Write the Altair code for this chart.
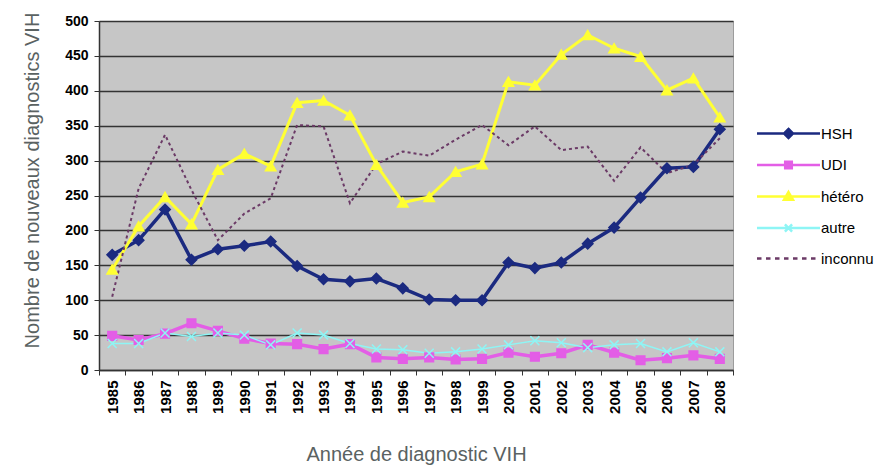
import altair as alt
import pandas as pd

annees = [1985, 1986, 1987, 1988, 1989, 1990, 1991, 1992, 1993, 1994, 1995, 1996,
          1997, 1998, 1999, 2000, 2001, 2002, 2003, 2004, 2005, 2006, 2007, 2008]
series = ["HSH", "UDI", "hétéro", "autre", "inconnu"]
hsh = [165, 186, 230, 158, 173, 178, 184, 149, 130, 127, 131, 117,
       101, 100, 100, 154, 146, 154, 181, 204, 247, 289, 291, 345]
udi = [49, 43, 52, 67, 56, 45, 38, 37, 30, 37, 18, 16,
       18, 15, 16, 25, 19, 24, 36, 25, 14, 17, 21, 16]
hetero = [144, 206, 248, 209, 287, 310, 292, 383, 386, 365, 294, 240,
          248, 284, 295, 413, 408, 452, 480, 461, 449, 401, 418, 362]
autre = [38, 38, 53, 48, 53, 50, 36, 53, 50, 38, 30, 29,
         24, 26, 30, 36, 42, 39, 32, 36, 38, 26, 39, 26]
inconnu = [105, 260, 337, 258, 186, 224, 246, 351, 349, 239, 295, 313,
           307, 330, 351, 322, 349, 315, 320, 271, 319, 282, 294, 332]
y_ticks = [0, 50, 100, 150, 200, 250, 300, 350, 400, 450, 500]

valeurs = [hsh, udi, hetero, autre, inconnu]
rows = []
for s, vals in zip(series, valeurs):
    for a, v in zip(annees, vals):
        rows.append({"annee": a, "serie": s, "valeur": v})
df = pd.DataFrame(rows)

colors = ["#1b2a80", "#e35ee6", "#ffff33", "#8ef5f5", "#6b3a66"]
line_w = [3.5, 3.5, 3, 1.5, 2]
X_PATH = "M-1,-1L1,1M-1,1L1,-1"
markers = ["diamond", "square", "triangle-up", X_PATH, None]
marker_size = [110, 75, 110, 80, 0]

# legend symbols: line + marker, unit = sqrt(size)/2
L = 5.25
legend_paths = [
    f"M-{L},0L{L},0M0,-0.75L0.75,0L0,0.75L-0.75,0Z",
    f"M-{L},0L{L},0M-0.55,-0.55L0.55,-0.55L0.55,0.55L-0.55,0.55Z",
    f"M-{L},0L{L},0M0,-0.75L0.75,0.55L-0.75,0.55Z",
    f"M-{L},0L{L},0M-0.6,-0.6L0.6,0.6M-0.6,0.6L0.6,-0.6",
    "".join(f"M{-L + i * 1.5:.2f},0L{-L + i * 1.5 + 0.75:.2f},0" for i in range(7)),
]

FONT = "Liberation Sans"
x_enc = alt.X(
    "annee:O",
    scale=alt.Scale(type="band", paddingInner=0, paddingOuter=0),
    axis=alt.Axis(
        title="Année de diagnostic VIH", labelAngle=-90, labelFont=FONT,
        labelFontSize=15, labelFontWeight="bold", labelColor="#000000",
        tickBand="extent", tickSize=5, tickColor="#333333", tickWidth=1,
        domainColor="#333333", domainWidth=1.5, labelPadding=5,
        titleFont=FONT, titleFontSize=20, titleFontWeight="normal",
        titleColor="#5a6262", titlePadding=31, grid=False,
    ),
)
y_enc = alt.Y(
    "valeur:Q",
    scale=alt.Scale(domain=[0, 500], nice=False),
    axis=alt.Axis(
        title="Nombre de nouveaux diagnostics VIH", values=y_ticks,
        labelFont=FONT, labelFontSize=14, labelFontWeight="bold",
        labelColor="#000000", labelPadding=6, tickSize=5,
        tickColor="#333333", domainColor="#333333", domainWidth=1.5,
        grid=True, gridColor="#333333", gridWidth=1.5,
        titleFont=FONT, titleFontSize=20, titleFontWeight="normal",
        titleColor="#5a6262", titlePadding=22, titleY=159,
    ),
)

base = alt.Chart(df)
layers = []
for s, c, w in zip(series, colors, line_w):
    kw = dict(color=c, strokeWidth=w)
    if s == "inconnu":
        kw["strokeDash"] = [3, 3]
    layers.append(
        base.transform_filter(alt.datum.serie == s)
        .mark_line(**kw)
        .encode(x=x_enc, y=y_enc)
    )
for s, c, m, sz in zip(series, colors, markers, marker_size):
    if m is None:
        continue
    layers.append(
        base.transform_filter(alt.datum.serie == s)
        .mark_point(shape=m, size=sz, filled=(m != X_PATH), fill=c, stroke=c,
                    strokeWidth=1.5, opacity=1)
        .encode(x=x_enc, y=y_enc)
    )

leg = alt.Legend(
    title=None, orient="none", legendX=682, legendY=105, padding=0,
    labelFont=FONT, labelFontSize=15, labelColor="#000000", labelOffset=25,
    rowPadding=13.5, symbolSize=144, symbolStrokeWidth=2.5, labelLimit=0,
    symbolOpacity=1,
)
legend_layer = (
    base.transform_filter("false")
    .mark_point(filled=True, size=144, strokeWidth=2.5, opacity=1)
    .encode(
        x=x_enc, y=y_enc,
        fill=alt.Fill("serie:N", scale=alt.Scale(domain=series, range=colors), legend=leg),
        stroke=alt.Stroke("serie:N", scale=alt.Scale(domain=series, range=colors), legend=leg),
        shape=alt.Shape("serie:N", scale=alt.Scale(domain=series, range=legend_paths), legend=leg),
    )
)
layers.append(legend_layer)

chart = (
    alt.layer(*layers)
    .properties(
        width=634, height=349,
        autosize=alt.AutoSizeParams(type="none"),
        padding={"left": 91, "top": 13, "right": 150, "bottom": 97},
        background="white",
    )
    .configure_view(fill="#c6c6c6", stroke="#9c9c9c", strokeWidth=1)
)

chart.save("out.html", embed_options={"renderer": "svg", "actions": False})
